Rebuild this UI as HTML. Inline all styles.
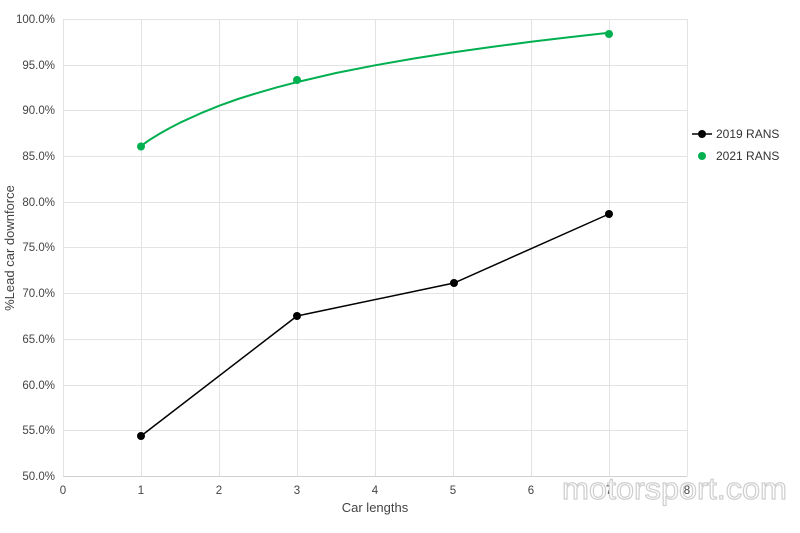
<!DOCTYPE html>
<html><head><meta charset="utf-8"><style>
html,body{margin:0;padding:0;background:#fff;}
svg{display:block;font-family:"Liberation Sans",sans-serif;}
</style></head><body>
<svg width="800" height="533" viewBox="0 0 800 533" xmlns="http://www.w3.org/2000/svg">
<rect width="800" height="533" fill="#fff"/>
<g stroke="#e3e3e3" stroke-width="1">
<line x1="63" y1="19.5" x2="687" y2="19.5"/>
<line x1="63" y1="65.5" x2="687" y2="65.5"/>
<line x1="63" y1="110.5" x2="687" y2="110.5"/>
<line x1="63" y1="156.5" x2="687" y2="156.5"/>
<line x1="63" y1="202.5" x2="687" y2="202.5"/>
<line x1="63" y1="247.5" x2="687" y2="247.5"/>
<line x1="63" y1="293.5" x2="687" y2="293.5"/>
<line x1="63" y1="339.5" x2="687" y2="339.5"/>
<line x1="63" y1="385.5" x2="687" y2="385.5"/>
<line x1="63" y1="430.5" x2="687" y2="430.5"/>
<line x1="63.5" y1="19" x2="63.5" y2="476"/>
<line x1="141.5" y1="19" x2="141.5" y2="476"/>
<line x1="219.5" y1="19" x2="219.5" y2="476"/>
<line x1="297.5" y1="19" x2="297.5" y2="476"/>
<line x1="375.5" y1="19" x2="375.5" y2="476"/>
<line x1="453.5" y1="19" x2="453.5" y2="476"/>
<line x1="531.5" y1="19" x2="531.5" y2="476"/>
<line x1="609.5" y1="19" x2="609.5" y2="476"/>
<line x1="687.5" y1="19" x2="687.5" y2="476"/>
</g>
<line x1="63" y1="476.5" x2="687" y2="476.5" stroke="#d0d0d0"/>
<g font-size="11.5" fill="#444" text-anchor="end">
<text x="55" y="23">100.0%</text>
<text x="55" y="69">95.0%</text>
<text x="55" y="114">90.0%</text>
<text x="55" y="160">85.0%</text>
<text x="55" y="206">80.0%</text>
<text x="55" y="251">75.0%</text>
<text x="55" y="297">70.0%</text>
<text x="55" y="343">65.0%</text>
<text x="55" y="389">60.0%</text>
<text x="55" y="434">55.0%</text>
<text x="55" y="480">50.0%</text>
</g>
<g font-size="11.5" fill="#444" text-anchor="middle">
<text x="63" y="494">0</text><text x="141" y="494">1</text><text x="219" y="494">2</text>
<text x="297" y="494">3</text><text x="375" y="494">4</text><text x="453" y="494">5</text>
<text x="531" y="494">6</text><text x="609" y="494">7</text><text x="687" y="494">8</text>
</g>
<text x="375" y="512" font-size="13" fill="#444" text-anchor="middle">Car lengths</text>
<text transform="translate(14,248) rotate(-90)" font-size="13" fill="#444" text-anchor="middle">%Lead car downforce</text>
<polyline fill="none" stroke="#00b050" stroke-width="2" stroke-linejoin="round" points="141,146 150,139.6 160,133.5 170,127.9 180,122.7 200,113.6 219,105.8 238,99 258,92.8 277,87.3 297,82.1 336,73 375,65.3 414,58.5 453,52.4 492,46.9 531,41.8 570,37.1 609,32.7"/>
<g fill="#00b050"><circle cx="141" cy="146.5" r="4"/><circle cx="297" cy="80" r="4"/><circle cx="609" cy="34" r="4"/></g>
<polyline fill="none" stroke="#000" stroke-width="1.5" points="141,436 297,316 454,283 609,214"/>
<g fill="#000"><circle cx="141" cy="436" r="4"/><circle cx="297" cy="316" r="4"/><circle cx="454" cy="283" r="4"/><circle cx="609" cy="214" r="4"/></g>
<line x1="692" y1="134" x2="712" y2="134" stroke="#000" stroke-width="1.5"/>
<circle cx="702" cy="134" r="4" fill="#000"/>
<text x="716" y="138" font-size="12" fill="#333">2019 RANS</text>
<circle cx="702" cy="156" r="4" fill="#00b050"/>
<text x="716" y="160" font-size="12" fill="#333">2021 RANS</text>
<text x="562" y="499" font-size="31" fill="#fff" stroke="#cfcfcf" stroke-width="1.2" textLength="225" lengthAdjust="spacingAndGlyphs">motorsport.com</text>
</svg>
</body></html>
